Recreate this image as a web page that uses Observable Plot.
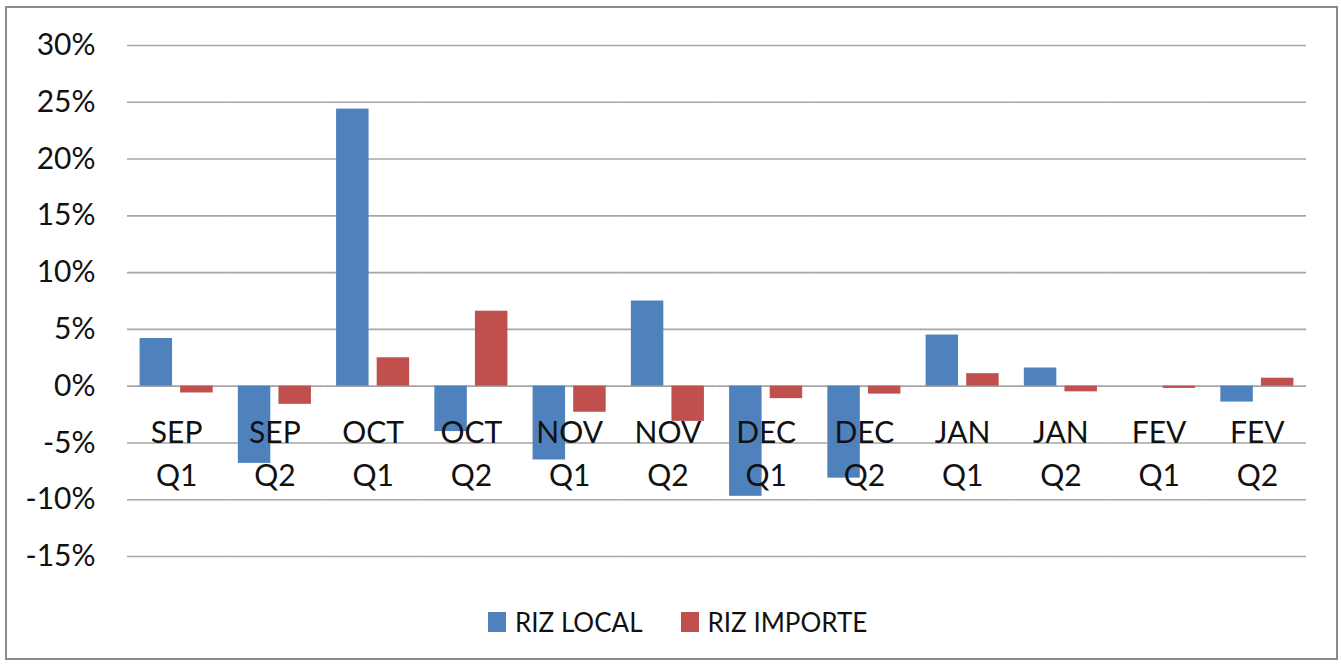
<!DOCTYPE html>
<html>
<head>
<meta charset="utf-8">
<script src="https://cdn.jsdelivr.net/npm/d3@7"></script>
<script src="https://cdn.jsdelivr.net/npm/@observablehq/plot@0.6"></script>
<style>
  html, body { margin: 0; padding: 0; background: #fff; }
  body { width: 1341px; height: 664px; position: relative; overflow: hidden; font-family: Lato, "Open Sans", sans-serif; }
  #frame { position: absolute; left: 5px; top: 6px; width: 1333px; height: 654px; box-sizing: border-box; border: 2.5px solid #8a8a8a; }
  #chart { position: absolute; left: 0; top: 0; }
  #legend { position: absolute; left: 488px; top: 606px; display: flex; align-items: center; font-size: 26px; color: #111; }
  .sw { display: inline-block; width: 18px; height: 20px; margin-right: 9px; }
  .item { display: flex; align-items: center; margin-right: 38px; white-space: pre; }
</style>
</head>
<body>
<div id="frame"></div>
<div id="chart"></div>
<div id="legend"></div>
<script>
// ---- data ----
const months = ["SEP", "SEP", "OCT", "OCT", "NOV", "NOV", "DEC", "DEC", "JAN", "JAN", "FEV", "FEV"];
const halves = ["Q1", "Q2", "Q1", "Q2", "Q1", "Q2", "Q1", "Q2", "Q1", "Q2", "Q1", "Q2"];
const seriesNames = ["RIZ LOCAL", "RIZ IMPORTE"];
const rizLocal   = [4.2, -6.8, 24.4, -4.0, -6.5, 7.5, -9.7, -8.1, 4.5, 1.6, 0.0, -1.4];
const rizImporte = [-0.6, -1.6, 2.5, 6.6, -2.3, -3.1, -1.1, -0.7, 1.1, -0.5, -0.2, 0.7];
const yTicks = [-15, -10, -5, 0, 5, 10, 15, 20, 25, 30];
const seriesColors = ["#4f81bd", "#c0504d"];

// ---- build table ----
const keys = months.map((m, i) => m + " " + halves[i]);
const rows = [];
keys.forEach((k, i) => {
  rows.push({key: k, series: seriesNames[0], value: rizLocal[i]});
  rows.push({key: k, series: seriesNames[1], value: rizImporte[i]});
});
const labels = keys.map((k, i) => ({key: k, month: months[i], half: halves[i]}));

const chart = Plot.plot({
  width: 1341,
  height: 590,
  marginLeft: 127,
  marginRight: 35,
  marginTop: 45,
  marginBottom: 34,
  style: {fontFamily: "Lato, 'Open Sans', sans-serif", fontSize: "30px", color: "#111", background: "transparent"},
  fx: {domain: keys, axis: null, padding: 0, round: false, label: null},
  x: {domain: seriesNames, axis: null, paddingInner: 0.2, paddingOuter: 0.31, round: false, label: null},
  y: {domain: [-15, 30], axis: null, label: null},
  color: {domain: seriesNames, range: seriesColors},
  marks: [
    Plot.ruleY(yTicks, {stroke: "#a6a6a6", strokeWidth: 1.6}),
    Plot.barY(rows, {fx: "key", x: "series", y: "value", fill: "series"}),
    Plot.axisY(yTicks, {tickSize: 0, tickPadding: 32, tickFormat: d => d + "%", fontSize: 30, fill: "#111", label: null}),
    Plot.text(labels, {fx: "key", y: 0, text: "month", dy: 57, lineAnchor: "bottom", fontSize: 30, fill: "#111"}),
    Plot.text(labels, {fx: "key", y: 0, text: "half", dy: 100, lineAnchor: "bottom", fontSize: 30, fill: "#111"})
  ]
});
document.getElementById("chart").appendChild(chart);

// ---- legend ----
const lg = document.getElementById("legend");
seriesNames.forEach((s, i) => {
  const it = document.createElement("span");
  it.className = "item";
  const sw = document.createElement("span");
  sw.className = "sw";
  sw.style.background = seriesColors[i];
  it.appendChild(sw);
  it.appendChild(document.createTextNode(s));
  lg.appendChild(it);
});
</script>
</body>
</html>
